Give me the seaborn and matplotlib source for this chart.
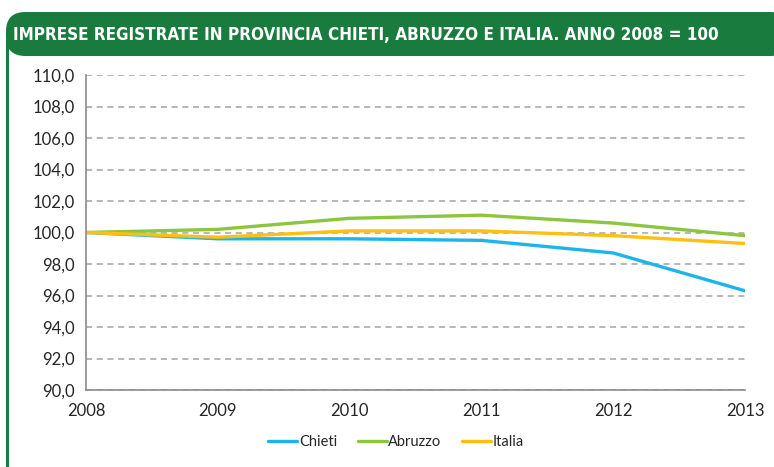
import matplotlib
matplotlib.use("Agg")
import matplotlib.pyplot as plt
from matplotlib.patches import FancyBboxPatch
import pandas as pd
import seaborn as sns

years = [2008, 2009, 2010, 2011, 2012, 2013]
chieti = [100.0, 99.6, 99.6, 99.5, 98.7, 96.3]
abruzzo = [100.0, 100.2, 100.9, 101.1, 100.6, 99.8]
italia = [100.0, 99.7, 100.1, 100.1, 99.8, 99.3]
series_names = ["Chieti", "Abruzzo", "Italia"]
colors = ["#1db4ea", "#8cc63f", "#fdc010"]
title = "IMPRESE REGISTRATE IN PROVINCIA CHIETI, ABRUZZO E ITALIA. ANNO 2008 = 100"

df = pd.DataFrame({
    "Anno": years * 3,
    "Valore": chieti + abruzzo + italia,
    "Serie": [n for n in series_names for _ in years],
})

sns.set_style("white")
plt.rcParams['font.family'] = ['Lato', 'DejaVu Sans']

W, H = 774, 467
fig = plt.figure(figsize=(W / 100, H / 100), dpi=100)
ax = fig.add_axes([86 / W, 1 - 390 / H, (745 - 86) / W, (390 - 75) / H])

# header bar and left border
hdr = FancyBboxPatch((6 / W, 1 - 56 / H), (W - 6) / W + 0.02, 44 / H,
                     boxstyle="round,pad=0,rounding_size=0.025",
                     transform=fig.transFigure, facecolor="#1a7b3f",
                     edgecolor="none", mutation_aspect=W / H)
fig.patches.append(hdr)
fig.add_artist(plt.Line2D([6.5 / W, 6.5 / W], [0, 1 - 40 / H], color="#1a7b3f",
                          lw=2.2, transform=fig.transFigure))
t = fig.text(13 / W, 1 - 35 / H, title, color="white", fontsize=16, fontweight="bold",
             family=['DejaVu Sans'], stretch="condensed", va="center", ha="left")

# shrink the title until it fits the bar width used in the reference
fig.canvas.draw()
r = fig.canvas.get_renderer()
fs = 16
while t.get_window_extent(r).width > 716 and fs > 8:
    fs -= 0.25
    t.set_fontsize(fs)

sns.lineplot(data=df, x="Anno", y="Valore", hue="Serie", palette=colors,
             linewidth=2.4, ax=ax, legend=False)

ax.set_xlim(2008, 2013)
ax.set_ylim(90, 110)
ax.set_yticks(range(90, 111, 2))
ax.set_yticklabels([f"{v},0" for v in range(90, 111, 2)])
ax.set_xticks(years)
ax.set_xlabel("")
ax.set_ylabel("")
ax.grid(axis="y", color="#a8a2a2", linestyle=(0, (4, 3)), linewidth=1.1)
ax.set_axisbelow(True)
for s in ["top", "right"]:
    ax.spines[s].set_visible(False)
for s in ["left", "bottom"]:
    ax.spines[s].set_color("#8f8a8a")
    ax.spines[s].set_linewidth(1.2)
ax.tick_params(axis="y", direction="out", length=5, color="#8f8a8a", labelsize=12, pad=3)
ax.tick_params(axis="x", direction="inout", length=8, color="#8f8a8a", labelsize=12, pad=5)

handles = [plt.Line2D([], [], color=c, lw=2.4) for c in colors]
fig.legend(handles, series_names, loc="center", bbox_to_anchor=(396 / W, 1 - 442 / H),
           ncol=3, frameon=False, fontsize=10.5, handlelength=2.0, handletextpad=0.1,
           columnspacing=1.4)

fig.savefig("out.png", dpi=100)
